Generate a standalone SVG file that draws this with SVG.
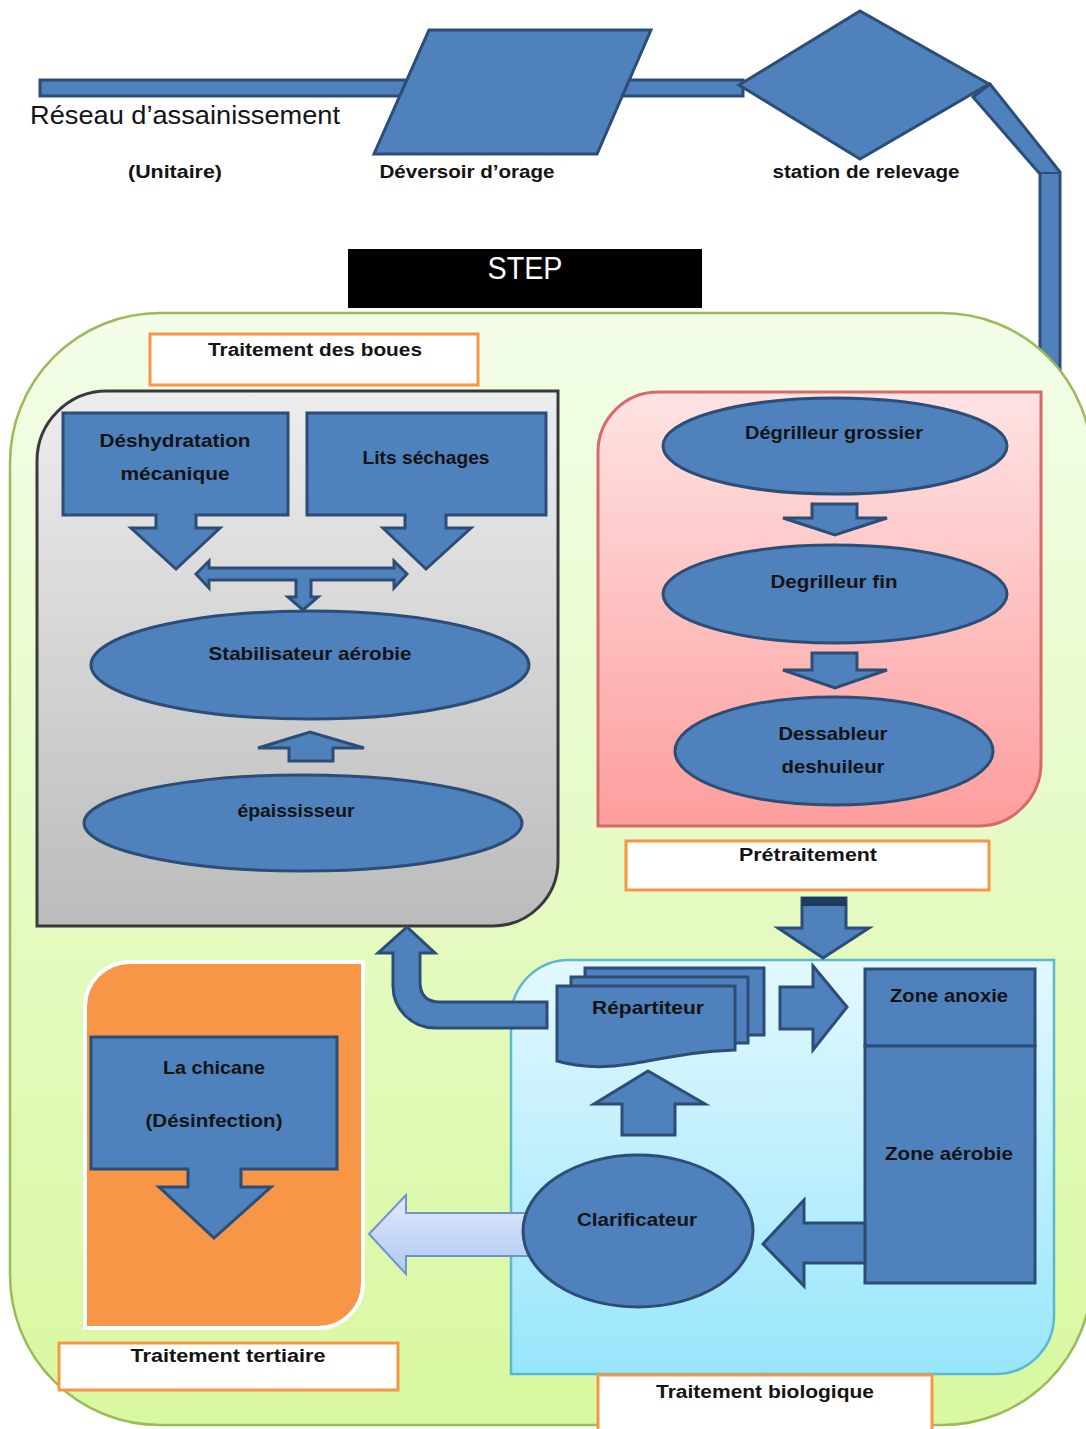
<svg xmlns="http://www.w3.org/2000/svg" width="1086" height="1429" viewBox="0 0 1086 1429">
<defs>
<linearGradient id="gGreen" x1="0" y1="0" x2="0" y2="1"><stop offset="0" stop-color="#f3fde8"/><stop offset="1" stop-color="#d8f8a0"/></linearGradient>
<linearGradient id="gGrey" x1="0" y1="0" x2="0" y2="1"><stop offset="0" stop-color="#ededed"/><stop offset="1" stop-color="#bbbbbb"/></linearGradient>
<linearGradient id="gPink" x1="0" y1="0" x2="0" y2="1"><stop offset="0" stop-color="#ffe3e3"/><stop offset="1" stop-color="#fd9d9d"/></linearGradient>
<linearGradient id="gBio" x1="0" y1="0" x2="0" y2="1"><stop offset="0" stop-color="#e3f8fe"/><stop offset="1" stop-color="#98e6fb"/></linearGradient>
<linearGradient id="gLight" x1="0" y1="0" x2="0" y2="1"><stop offset="0" stop-color="#e2ebfb"/><stop offset="1" stop-color="#aec7f3"/></linearGradient>
</defs>
<style>
.b{fill:#4f81bd;stroke:#2c4d76;stroke-width:3;stroke-linejoin:miter}
.lbl{fill:#ffffff;stroke:#f79646;stroke-width:3}
text{font-family:"Liberation Sans",Arial,sans-serif;fill:#141414}
.t{font-size:19px;font-weight:bold;text-anchor:middle}
.s{font-size:18px;font-weight:bold;text-anchor:middle}
</style>

<g id="connectors">
  <rect class="b" x="40" y="80" width="366" height="16"/>
  <rect class="b" x="615" y="80" width="128" height="16"/>
  <polygon class="b" points="973,97 990,84 1060,172 1060,390 1040,390 1040,174"/>
  <line x1="1040" y1="173" x2="1060" y2="173" stroke="#2c4d76" stroke-width="2"/>
</g>

<g id="reseau">
  <text x="30" y="124" font-size="25" textLength="310" lengthAdjust="spacingAndGlyphs">Réseau d’assainissement</text>
  <text class="s" x="175" y="178" textLength="94" lengthAdjust="spacingAndGlyphs">(Unitaire)</text>
</g>
<g id="deversoir">
  <polygon class="b" points="429,30 651,30 597,154 374,154"/>
  <text class="s" x="467" y="178" textLength="175" lengthAdjust="spacingAndGlyphs">Déversoir d’orage</text>
</g>
<g id="station">
  <polygon class="b" points="739,85 860,11 989,84 860,159"/>
  <text class="s" x="866" y="178" textLength="187" lengthAdjust="spacingAndGlyphs">station de relevage</text>
</g>

<g id="step-title">
  <rect x="348" y="249" width="354" height="59" fill="#000000"/>
  <text x="525" y="279" font-size="32" text-anchor="middle" style="fill:#ffffff" textLength="75" lengthAdjust="spacingAndGlyphs">STEP</text>
</g>

<g id="step">
  <rect x="10" y="313" width="1082" height="1112" rx="150" ry="150" fill="url(#gGreen)" stroke="#9bbb59" stroke-width="2.5"/>
</g>

<g id="traitement-boues">
  <rect class="lbl" x="150" y="334" width="328" height="51"/>
  <text class="s" x="315" y="356" textLength="214" lengthAdjust="spacingAndGlyphs">Traitement des boues</text>
  <path d="M107 391 H558 V861 A65 65 0 0 1 493 926 H37 V461 A70 70 0 0 1 107 391 Z" fill="url(#gGrey)" stroke="#3a3a3a" stroke-width="3"/>
</g>
<g id="deshydratation">
  <path class="b" d="M63 413 H288 V515 H196 V528 H220 L176 569 L131 528 H156 V515 H63 Z"/>
  <text class="t" x="175" y="447" textLength="151" lengthAdjust="spacingAndGlyphs">Déshydratation</text>
  <text class="t" x="175" y="480" textLength="109" lengthAdjust="spacingAndGlyphs">mécanique</text>
</g>
<g id="lits">
  <path class="b" d="M307 413 H546 V515 H446 V528 H471 L426 569 L383 528 H405 V515 H307 Z"/>
  <text class="t" x="426" y="464" textLength="127" lengthAdjust="spacingAndGlyphs">Lits séchages</text>
</g>
<g id="stabilisateur">
  <ellipse class="b" cx="310" cy="665" rx="219" ry="54"/>
  <text class="t" x="310" y="660" textLength="203" lengthAdjust="spacingAndGlyphs">Stabilisateur aérobie</text>
</g>
<g id="epaississeur">
  <ellipse class="b" cx="303" cy="823" rx="219" ry="48"/>
  <text class="t" x="296" y="817" textLength="117" lengthAdjust="spacingAndGlyphs">épaississeur</text>
</g>

<g id="pretraitement">
  <path d="M658 392 H1041 V763 A63 63 0 0 1 978 826 H598 V452 A60 60 0 0 1 658 392 Z" fill="url(#gPink)" stroke="#d56b69" stroke-width="3"/>
  <rect class="lbl" x="626" y="841" width="363" height="49"/>
  <text class="s" x="808" y="861" textLength="138" lengthAdjust="spacingAndGlyphs">Prétraitement</text>
</g>
<g id="degrilleur-grossier">
  <ellipse class="b" cx="835" cy="446" rx="172" ry="48"/>
  <text class="t" x="834" y="439" textLength="178" lengthAdjust="spacingAndGlyphs">Dégrilleur grossier</text>
</g>
<g id="degrilleur-fin">
  <ellipse class="b" cx="835" cy="594" rx="172" ry="49"/>
  <text class="t" x="834" y="588" textLength="127" lengthAdjust="spacingAndGlyphs">Degrilleur fin</text>
</g>
<g id="dessableur">
  <ellipse class="b" cx="834" cy="751" rx="159" ry="54"/>
  <text class="t" x="833" y="740" textLength="109" lengthAdjust="spacingAndGlyphs">Dessableur</text>
  <text class="t" x="833" y="773" textLength="103" lengthAdjust="spacingAndGlyphs">deshuileur</text>
</g>

<g id="traitement-tertiaire">
  <path d="M130 962 H363 V1283 A45 45 0 0 1 318 1328 H85 V1007 A45 45 0 0 1 130 962 Z" fill="#f79646" stroke="#ffffff" stroke-width="4"/>
  <rect class="lbl" x="59" y="1343" width="339" height="47"/>
  <text class="s" x="228" y="1362" textLength="195" lengthAdjust="spacingAndGlyphs">Traitement tertiaire</text>
</g>
<g id="chicane">
  <path class="b" d="M91 1037 H337 V1169 H241 V1187 H271 L214 1238 L159 1187 H188 V1169 H91 Z"/>
  <text class="t" x="214" y="1074" textLength="102" lengthAdjust="spacingAndGlyphs">La chicane</text>
  <text class="t" x="214" y="1127" textLength="137" lengthAdjust="spacingAndGlyphs">(Désinfection)</text>
</g>

<g id="traitement-biologique">
  <path d="M569 960 H1054 V1316 A58 58 0 0 1 996 1374 H511 V1018 A58 58 0 0 1 569 960 Z" fill="url(#gBio)" stroke="#5db7cf" stroke-width="2.5"/>
  <rect class="lbl" x="598" y="1375" width="334" height="62"/>
  <text class="s" x="765" y="1398" textLength="218" lengthAdjust="spacingAndGlyphs">Traitement biologique</text>
</g>
<g id="repartiteur">
  <rect class="b" x="585" y="968" width="179" height="67"/>
  <rect class="b" x="571" y="977" width="177" height="66"/>
  <path class="b" d="M557 986 H735 V1050 C695 1051 665 1058 630 1064 C600 1069 575 1066 557 1061 Z"/>
  <text class="t" x="648" y="1014" textLength="112" lengthAdjust="spacingAndGlyphs">Répartiteur</text>
</g>
<g id="zone-anoxie">
  <rect class="b" x="865" y="969" width="170" height="77"/>
  <text class="t" x="949" y="1002" textLength="118" lengthAdjust="spacingAndGlyphs">Zone anoxie</text>
</g>
<g id="zone-aerobie">
  <rect class="b" x="865" y="1046" width="170" height="237"/>
  <text class="t" x="949" y="1160" textLength="128" lengthAdjust="spacingAndGlyphs">Zone aérobie</text>
</g>

<g id="arrows">
  <polygon class="b" points="196,574 209,561 209,568 394,568 394,561 407,574 394,588 394,580 311,580 311,597 318,597 303,610 288,597 296,597 296,580 209,580 209,588"/>
  <polygon class="b" points="289,761 289,748 258,748 310,732 364,748 333,748 333,761"/>
  <polygon class="b" points="812,504 857,504 857,518 887,518 835,535 783,518 812,518"/>
  <polygon class="b" points="812,653 857,653 857,670 887,670 835,688 783,670 812,670"/>
  <polygon class="b" points="802,898 846,898 846,928 869,928 823,958 778,928 802,928"/>
  <rect x="802" y="897" width="44" height="9" fill="#1f3a5f"/>
  <path class="b" d="M547 1002 H440 Q420 1002 420 982 V953 H435 L407 927 L378 953 H393 V986 A42 42 0 0 0 435 1028 H547 Z"/>
  <polygon class="b" points="780,987 813,987 813,966 847,1007 813,1050 813,1029 780,1029"/>
  <polygon class="b" points="865,1223 804,1223 804,1200 763,1244 804,1286 804,1263 865,1263"/>
  <polygon class="b" points="622,1135 622,1104 594,1104 648,1071 705,1104 675,1104 675,1135"/>
  <polygon points="532,1213 406,1213 406,1195 369,1234 406,1274 406,1256 532,1256" fill="url(#gLight)" stroke="#6f93cf" stroke-width="2"/>
</g>

<g id="clarificateur">
  <ellipse class="b" cx="638" cy="1231" rx="115" ry="76"/>
  <text class="t" x="637" y="1226" textLength="120" lengthAdjust="spacingAndGlyphs">Clarificateur</text>
</g>
</svg>
